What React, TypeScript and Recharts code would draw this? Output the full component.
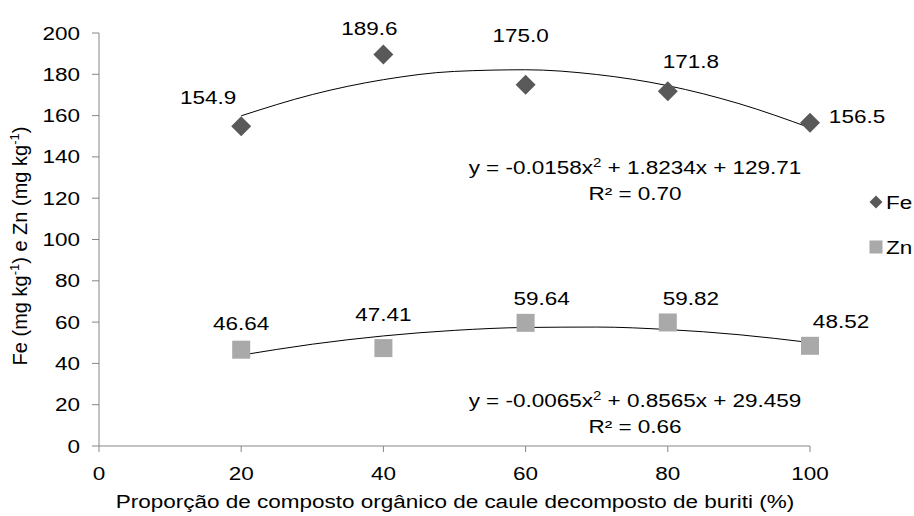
import React from 'react';
import { ComposedChart, XAxis, YAxis, Line, Scatter } from 'recharts';

const xValues = [20, 40, 60, 80, 100];
const feValues = [154.9, 189.6, 175.0, 171.8, 156.5];
const znValues = [46.64, 47.41, 59.64, 59.82, 48.52];

// fitted curves
const trendX = [20, 30, 40, 50, 60, 70, 80, 90, 100];
const feTrend = [159.9, 170.2, 177.4, 181.4, 182.2, 179.9, 174.5, 165.8, 154.1];
const znTrend = [44.0, 49.3, 53.3, 56.0, 57.4, 57.6, 56.4, 53.9, 50.1];

const xTicks = [0, 20, 40, 60, 80, 100];
const yTicks = [0, 20, 40, 60, 80, 100, 120, 140, 160, 180, 200];

const feEquation = ['y = -0.0158x', ' + 1.8234x + 129.71', 'R² = 0.70'];
const znEquation = ['y = -0.0065x', ' + 0.8565x + 29.459', 'R² = 0.66'];

const feData = xValues.map((x, i) => ({ x, y: feValues[i] }));
const znData = xValues.map((x, i) => ({ x, y: znValues[i] }));
const feTrendData = trendX.map((x, i) => ({ x, y: feTrend[i] }));
const znTrendData = trendX.map((x, i) => ({ x, y: znTrend[i] }));

// label offsets from each marker (dx, dy of text centre)
const feLabelPos = [[-33, -29], [-14, -26], [-5, -49], [23, -30], [47, -6]];
const znLabelPos = [[0, -26], [0, -34], [16, -24], [23, -24], [31, -24]];

const FONT = '"Liberation Sans", Arial, sans-serif';
const AXIS = '#868686';
const FE_COLOR = '#595959';
const ZN_COLOR = '#a9a9a9';
const STRETCH = 1.25; // the source picture's text is wide

// horizontally stretched text, anchored at (x, y baseline)
const SText = ({ x, y, anchor = 'middle', children }: any) => (
  <text
    transform={`translate(${x} ${y}) scale(${STRETCH} 1)`}
    textAnchor={anchor}
    fontSize={18}
    fontFamily={FONT}
    fill="#000"
  >
    {children}
  </text>
);

const XTick = (props: any) => (
  <SText x={props.x} y={props.y + 15.5}>{props.payload.value}</SText>
);

const YTick = (props: any) => (
  <SText x={props.x} y={props.y + 6.5} anchor="end">{props.payload.value}</SText>
);

const FeShape = (props: any) => {
  const { cx, cy, payload } = props;
  const i = xValues.indexOf(payload.x);
  const [dx, dy] = feLabelPos[i] || [0, -25];
  const r = 10;
  return (
    <g>
      <polygon
        points={`${cx},${cy - r} ${cx + r},${cy} ${cx},${cy + r} ${cx - r},${cy}`}
        fill={FE_COLOR}
      />
      <SText x={cx + dx} y={cy + dy + 6.5}>{payload.y.toFixed(1)}</SText>
    </g>
  );
};

const ZnShape = (props: any) => {
  const { cx, cy, payload } = props;
  const i = xValues.indexOf(payload.x);
  const [dx, dy] = znLabelPos[i] || [0, -25];
  const s = 18;
  return (
    <g>
      <rect x={cx - s / 2} y={cy - s / 2} width={s} height={s} fill={ZN_COLOR} />
      <SText x={cx + dx} y={cy + dy + 6.5}>{payload.y.toFixed(2)}</SText>
    </g>
  );
};

const Equation = ({ lines, x, y }: { lines: string[]; x: number; y: number }) => (
  <g>
    <SText x={x} y={y}>
      {lines[0]}
      <tspan fontSize={12} dy={-7}>2</tspan>
      <tspan dy={7}>{lines[1]}</tspan>
    </SText>
    <SText x={x} y={y + 26}>{lines[2]}</SText>
  </g>
);

export default function App() {
  return (
    <div style={{ position: 'absolute', left: 0, top: 0, width: 914, height: 516, background: '#fff' }}>
      <ComposedChart
        width={914}
        height={516}
        margin={{ top: 33, right: 104, bottom: 30, left: 39 }}
        style={{ fontFamily: FONT }}
      >
        <XAxis
          dataKey="x"
          type="number"
          domain={[0, 100]}
          ticks={xTicks}
          height={40}
          stroke={AXIS}
          tickSize={6}
          tickMargin={12}
          tick={XTick}
        />
        <YAxis
          type="number"
          domain={[0, 200]}
          ticks={yTicks}
          width={60}
          stroke={AXIS}
          tickSize={7}
          tickMargin={12}
          tick={YTick}
        />
        <Line
          data={feTrendData}
          dataKey="y"
          type="monotone"
          dot={false}
          stroke="#000"
          strokeWidth={1}
          isAnimationActive={false}
        />
        <Line
          data={znTrendData}
          dataKey="y"
          type="monotone"
          dot={false}
          stroke="#000"
          strokeWidth={1}
          isAnimationActive={false}
        />
        <Scatter name="Fe" data={feData} dataKey="y" shape={FeShape} isAnimationActive={false} />
        <Scatter name="Zn" data={znData} dataKey="y" shape={ZnShape} isAnimationActive={false} />
      </ComposedChart>
      <svg
        width={914}
        height={516}
        style={{ position: 'absolute', left: 0, top: 0, pointerEvents: 'none' }}
      >
        <Equation lines={feEquation} x={635} y={174} />
        <Equation lines={znEquation} x={635} y={407} />
        <polygon points="876,195.5 882.5,202 876,208.5 869.5,202" fill={FE_COLOR} />
        <SText x={886} y={208.5} anchor="start">Fe</SText>
        <rect x={869.5} y={240.5} width={13} height={13} fill={ZN_COLOR} />
        <SText x={886} y={253.5} anchor="start">Zn</SText>
        <SText x={455} y={508}>
          Proporção de composto orgânico de caule decomposto de buriti (%)
        </SText>
        <text
          x={27}
          y={246}
          textAnchor="middle"
          transform="rotate(-90 27 246)"
          fontSize={20}
          fontFamily={FONT}
          fill="#000"
        >
          Fe (mg kg<tspan fontSize={13} dy={-8}>-1</tspan>
          <tspan dy={8}>) e Zn (mg kg</tspan>
          <tspan fontSize={13} dy={-8}>-1</tspan>
          <tspan dy={8}>)</tspan>
        </text>
      </svg>
    </div>
  );
}
